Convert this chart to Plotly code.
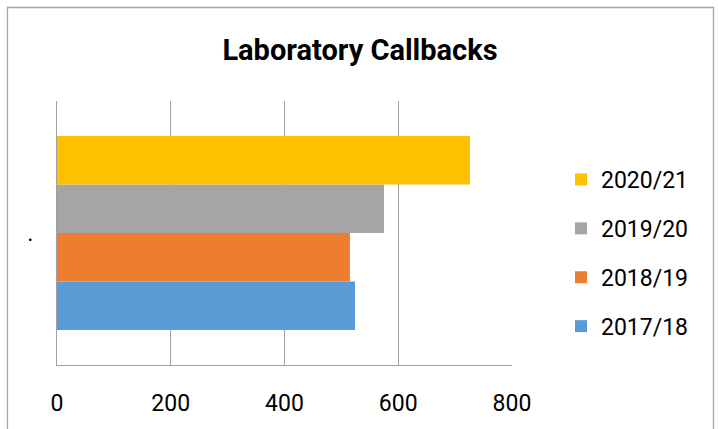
import plotly.graph_objects as go

# Callback counts per financial year (single unnamed category)
category = ["."]
years = ["2017/18", "2018/19", "2019/20", "2020/21"]
callbacks = [524, 515, 575, 726]
colors = ["#5B9BD5", "#ED7D31", "#A5A5A5", "#FFC000"]
x_ticks = [0, 200, 400, 600, 800]

W, H = 718, 429
L, R, T, B = 57, 206, 101, 64

fig = go.Figure()
n = len(years)
for i, (yr, val, col) in enumerate(zip(years, callbacks, colors)):
    fig.add_trace(go.Bar(
        y=category, x=[val], name=yr, orientation="h",
        marker=dict(color=col, line=dict(width=0)),
        legendgroup=yr, legendrank=n - i,
    ))

pw = W - L - R
ph = H - T - B

def px_x(p):
    return (p - L) / pw

def px_y(p):
    return (H - B - p) / ph

# outer chart frame
fig.add_shape(type="rect", xref="paper", yref="paper",
              x0=px_x(7.5), x1=px_x(713.5), y0=px_y(440), y1=px_y(7.5),
              line=dict(color="#A6A6A6", width=1.3), fillcolor="rgba(0,0,0,0)",
              layer="below")

font_family = "Roboto"
fig.update_layout(
    width=W, height=H,
    margin=dict(l=L, r=R, t=T, b=B, pad=0),
    paper_bgcolor="white", plot_bgcolor="white",
    barmode="group", bargap=0.265, bargroupgap=0,
    title=dict(text="<b>Laboratory Callbacks</b>", x=360 / W, y=1 - 50 / H,
               xref="container", yref="container",
               xanchor="center", yanchor="middle",
               font=dict(family=font_family, size=29, color="black")),
    font=dict(family=font_family, color="black"),
    xaxis=dict(range=[0, 800], tickvals=x_ticks, ticktext=[str(v) for v in x_ticks],
               showgrid=True, gridcolor="#A0A0A0", gridwidth=1,
               zeroline=False, showline=True, linecolor="#A0A0A0", linewidth=1,
               ticks="", ticklabelstandoff=17,
               tickfont=dict(family=font_family, size=23, color="black"),
               fixedrange=True),
    yaxis=dict(type="category", showgrid=False, zeroline=False,
               showline=True, linecolor="#A0A0A0", linewidth=1,
               ticks="", ticklabelstandoff=18,
               tickfont=dict(family=font_family, size=23, color="black"),
               fixedrange=True),
    legend=dict(x=561 / W, y=1 - 158 / H, xref="container", yref="container",
                xanchor="left", yanchor="top",
                traceorder="grouped", tracegroupgap=16,
                font=dict(family=font_family, size=23, color="black"),
                bgcolor="rgba(0,0,0,0)"),
    showlegend=True,
)

fig.write_html("out.html")
